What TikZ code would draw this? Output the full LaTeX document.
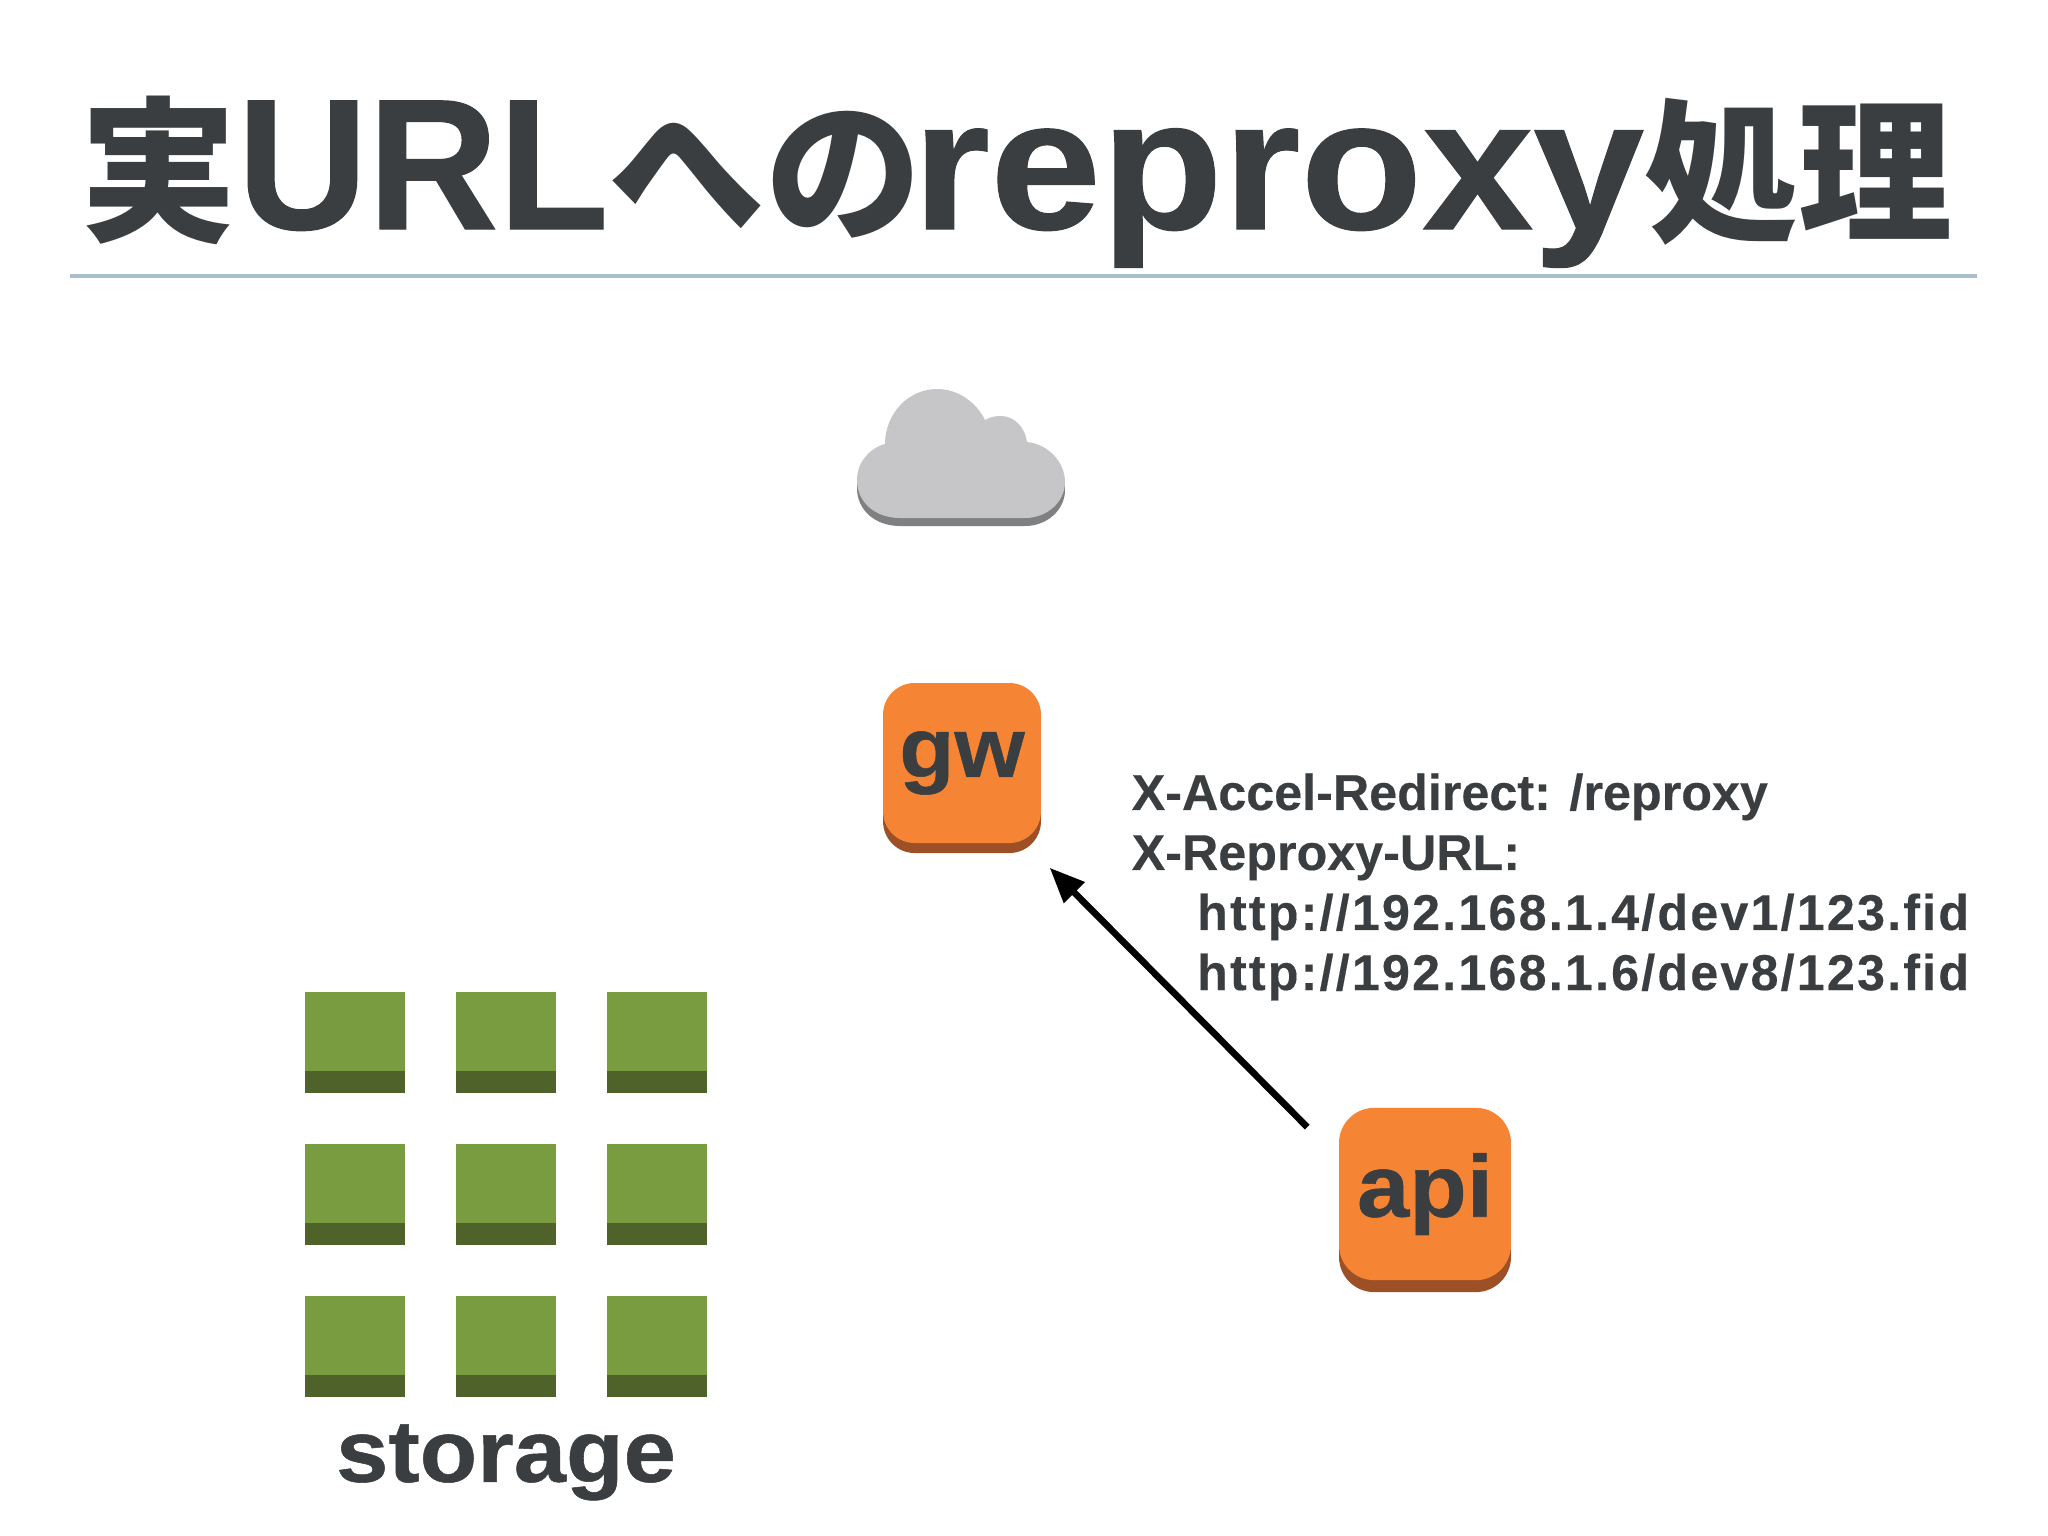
\documentclass[tikz,border=0pt]{standalone}
\usepackage{fontspec}
\setmainfont{Liberation Sans}[BoldFeatures={FakeBold=0.3}]
\newfontfamily\cjk{Noto Sans CJK JP}
\newfontfamily\heavy{Liberation Sans}[BoldFeatures={FakeBold=0.6,FakeStretch=1.07}]
\newfontfamily\heavyurl{Liberation Sans}[BoldFeatures={FakeBold=0.6,FakeStretch=0.97}]
\newcommand{\titlecjk}[1]{{\fontsize{44.5pt}{60pt}\selectfont\cjk #1}}
\usetikzlibrary{positioning,calc,shadows,arrows.meta}
\definecolor{ink}{HTML}{3A3E40}
\definecolor{rulecol}{HTML}{A9C0CC}
\definecolor{awsorange}{HTML}{F58534}
\definecolor{awsbrown}{HTML}{9D5025}
\definecolor{leaf}{HTML}{7A9C41}
\definecolor{leafdark}{HTML}{4F6229}
\definecolor{cloudtop}{HTML}{C6C6C8}
\definecolor{cloudbase}{HTML}{7F8082}
\tikzset{
  server/.style={rectangle,fill=awsorange,text=ink,inner sep=0pt,
    copy shadow={shadow xshift=0pt,shadow yshift=-#1,fill=awsbrown,draw=none,opacity=1}},
  disk/.style={rectangle,fill=leaf,minimum width=28.7pt,minimum height=22.5pt,inner sep=0pt,
    copy shadow={shadow xshift=0pt,shadow yshift=-6.26pt,fill=leafdark,draw=none,opacity=1}},
  push/.style={-{Triangle[length=10pt,width=8pt]},line width=1.9pt,black},
}
\newcommand{\cloudpath}{(900,518) .. controls (875,518) and (857,502) .. (857,480)
  .. controls (857,462) and (870,448) .. (885,444)
  .. controls (885,414) and (908,389) .. (937,389)
  .. controls (958,389) and (976,402) .. (985,420)
  .. controls (990,417) and (995,416) .. (1001,416)
  .. controls (1014,416) and (1025,427) .. (1027,442)
  .. controls (1048,444) and (1065,462) .. (1065,482)
  .. controls (1065,502) and (1047,518) .. (1025,518) -- cycle}
\begin{document}
\begin{tikzpicture}[x=0.01cm,y=-0.01cm]
   \useasboundingbox (0,0) rectangle (2048,1536);
   \node[anchor=base west,text=ink,inner sep=0pt] (title) at (80,229)
      {\fontsize{53pt}{60pt}\selectfont\bfseries\titlecjk{実}{\heavyurl URL}\titlecjk{への}\hspace{-2.6pt}{\heavy reproxy}{\fontsize{43.8pt}{60pt}\selectfont\cjk 処理}};
   \draw[rulecol,line width=1.1pt] (70,276) -- (1977,276);
   % cloud
   \fill[cloudbase,yshift=-0.08cm] \cloudpath;
   \fill[cloudtop] \cloudpath;
   \node[server=2.85pt,rounded corners=9pt,minimum width=44.9pt,minimum height=45.5pt,
      font=\fontsize{24pt}{24pt}\selectfont\bfseries\heavy] (gw) at (962,763) {\raisebox{-2.5pt}{gw}};
   \node[server=3.4pt,rounded corners=10pt,minimum width=48.9pt,minimum height=49pt,
      font=\fontsize{25pt}{25pt}\selectfont\bfseries\heavy] (api) at (1425,1194) {api};
   \draw[push] ($(api.north west)+(-31,20)$) -- ($(gw.south east)+(8,24)$);
   \node[anchor=base west,text=ink,inner sep=0pt,align=left,
      font=\fontsize{14.3pt}{17.07pt}\selectfont\bfseries] (headers) at (1131,990)
      {X-Accel-Redirect: /reproxy\\
       X-Reproxy-URL:\\
       \hspace{18.6pt}\addfontfeature{LetterSpace=4.3}http://192.168.1.4/dev1/123.fid\\
       \hspace{18.6pt}\addfontfeature{LetterSpace=4.3}http://192.168.1.6/dev8/123.fid};
   \foreach \r/\y in {1/1031.5,2/1183.5,3/1335.5}
      \foreach \c/\x in {1/355,2/506,3/657}
         \node[disk] (s\r\c) at (\x,\y) {};
   \node[anchor=base,text=ink,inner sep=0pt,
      font=\fontsize{25pt}{25pt}\selectfont\bfseries\heavy] (storage) at ($(s32.south)+(0,106)$) {storage};
\end{tikzpicture}
\end{document}
